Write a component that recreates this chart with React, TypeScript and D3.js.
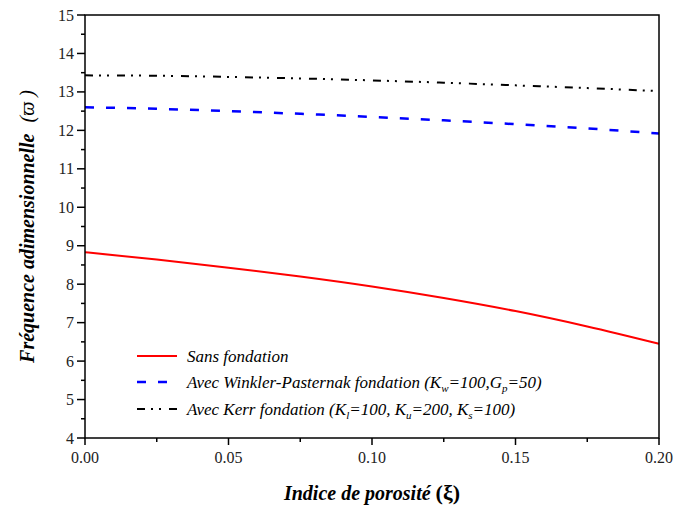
import React from "react";
import * as d3 from "d3";

const xs = [0, 0.025, 0.05, 0.075, 0.1, 0.125, 0.15, 0.175, 0.2];
const sansFondation = [8.83, 8.64, 8.43, 8.2, 7.94, 7.64, 7.3, 6.9, 6.45];
const winklerPasternak = [12.6, 12.56, 12.5, 12.43, 12.35, 12.26, 12.16, 12.05, 11.92];
const kerr = [13.43, 13.42, 13.39, 13.35, 13.3, 13.24, 13.17, 13.1, 13.02];
const xTicks = [0, 0.05, 0.1, 0.15, 0.2];
const yTicks = [4, 5, 6, 7, 8, 9, 10, 11, 12, 13, 14, 15];

const W = 673, H = 508;
const L = 85, R = 659, T = 15, B = 438;

export default function App() {
  const x = d3.scaleLinear().domain([0, 0.2]).range([L, R]);
  const y = d3.scaleLinear().domain([4, 15]).range([B, T]);
  const line = d3.line<number>().x((_, i) => x(xs[i])).y((d) => y(d)).curve(d3.curveMonotoneX);
  const minorX = d3.range(0, 8).map((i) => 0.025 + i * 0.05).filter((v) => v < 0.2);
  const minorY = d3.range(4.5, 15, 1);
  const font = "'Times New Roman', Times, 'Liberation Serif', serif";
  const legend = [
    { color: "#ff0000", dash: "none", w: 2, y: 356 },
    { color: "#0000ff", dash: "9,12", w: 2.5, y: 382 },
    { color: "#000000", dash: "8,6,2,6,2,8", w: 2, y: 409 },
  ];
  return (
    <svg width={W} height={H} fontFamily={font} style={{ display: "block", position: "absolute", left: 0, top: 0 }}>
      <rect x={0} y={0} width={W} height={H} fill="#fff" />
      <path d={line(sansFondation) || ""} fill="none" stroke="#ff0000" strokeWidth={2} />
      <path d={line(winklerPasternak) || ""} fill="none" stroke="#0000ff" strokeWidth={2.5} strokeDasharray="9,12" />
      <path d={line(kerr) || ""} fill="none" stroke="#000" strokeWidth={2} strokeDasharray="8,6,2,6,2,8" />
      <rect x={L} y={T} width={R - L} height={B - T} fill="none" stroke="#000" strokeWidth={1.5} />
      {xTicks.map((t) => (
        <g key={"xt" + t}>
          <line x1={x(t)} x2={x(t)} y1={B} y2={B + 7} stroke="#000" strokeWidth={1.5} />
          <text x={x(t)} y={B + 25} fontSize={16} textAnchor="middle" fill="#222">{t.toFixed(2)}</text>
        </g>
      ))}
      {minorX.map((t) => (
        <line key={"xm" + t} x1={x(t)} x2={x(t)} y1={B} y2={B + 4} stroke="#000" strokeWidth={1.5} />
      ))}
      {yTicks.map((t) => (
        <g key={"yt" + t}>
          <line x1={L - 8} x2={L} y1={y(t)} y2={y(t)} stroke="#000" strokeWidth={1.5} />
          <text x={L - 11} y={y(t) + 5.5} fontSize={16} textAnchor="end" fill="#222">{t}</text>
        </g>
      ))}
      {minorY.map((t) => (
        <line key={"ym" + t} x1={L - 4} x2={L} y1={y(t)} y2={y(t)} stroke="#000" strokeWidth={1.5} />
      ))}
      {legend.map((l, i) => (
        <line key={"lg" + i} x1={137} x2={177} y1={l.y} y2={l.y} stroke={l.color} strokeWidth={l.w} strokeDasharray={l.dash} />
      ))}
      <text x={187} y={362} fontSize={17} fontStyle="italic">Sans fondation</text>
      <text x={187} y={388} fontSize={17} fontStyle="italic">
        Avec Winkler-Pasternak fondation (K<tspan fontSize={11} dy={4}>w</tspan><tspan dy={-4}>=100,G</tspan><tspan fontSize={11} dy={4}>p</tspan><tspan dy={-4}>=50)</tspan>
      </text>
      <text x={187} y={415} fontSize={17} fontStyle="italic">
        Avec Kerr fondation (K<tspan fontSize={11} dy={4}>l</tspan><tspan dy={-4}>=100, K</tspan><tspan fontSize={11} dy={4}>u</tspan><tspan dy={-4}>=200, K</tspan><tspan fontSize={11} dy={4}>s</tspan><tspan dy={-4}>=100)</tspan>
      </text>
      <text x={(L + R) / 2} y={500} fontSize={20} fontWeight="bold" fontStyle="italic" textAnchor="middle">
        Indice de porosité <tspan fontStyle="normal" fontSize={22}>(ξ)</tspan>
      </text>
      <text transform={`translate(34, ${(T + B) / 2}) rotate(-90)`} fontSize={20} fontWeight="bold" fontStyle="italic" textAnchor="middle">
        Fréquence adimensionnelle <tspan fontWeight="normal" dx={6}>(ϖ )</tspan>
      </text>
    </svg>
  );
}
